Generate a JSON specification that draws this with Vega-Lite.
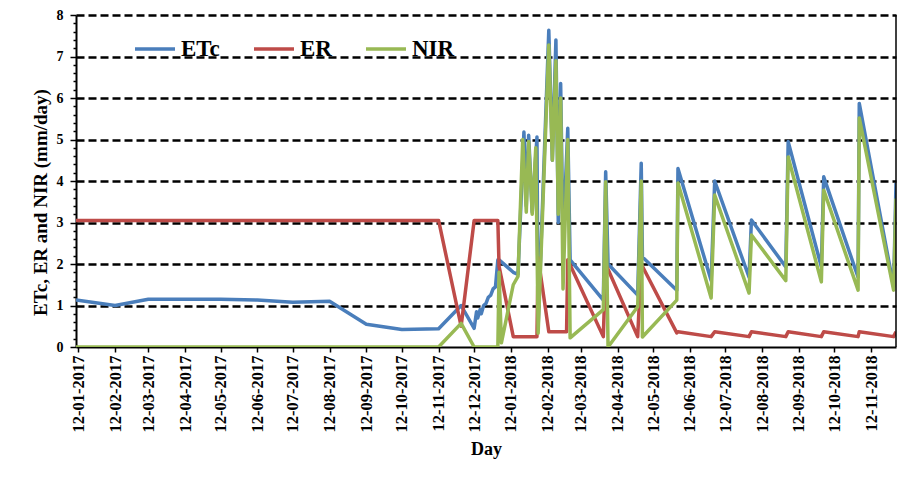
{
 "$schema": "https://vega.github.io/schema/vega-lite/v6.json",
 "width": 820,
 "height": 332,
 "autosize": {"type": "none"},
 "padding": {"left": 76, "top": 15, "right": 3, "bottom": 130},
 "background": "white",
 "config": {"font": "Liberation Serif", "view": {"stroke": null}},
 "data": {"values": [
  {"date": "2017-01-10", "series": "ETc", "value": 1.13},
  {"date": "2017-02-12", "series": "ETc", "value": 1.0},
  {"date": "2017-03-12", "series": "ETc", "value": 1.15},
  {"date": "2017-04-12", "series": "ETc", "value": 1.15},
  {"date": "2017-05-12", "series": "ETc", "value": 1.15},
  {"date": "2017-06-12", "series": "ETc", "value": 1.13},
  {"date": "2017-07-12", "series": "ETc", "value": 1.08},
  {"date": "2017-08-12", "series": "ETc", "value": 1.1},
  {"date": "2017-09-12", "series": "ETc", "value": 0.55},
  {"date": "2017-10-12", "series": "ETc", "value": 0.42},
  {"date": "2017-11-12", "series": "ETc", "value": 0.44},
  {"date": "2017-12-01", "series": "ETc", "value": 1.0},
  {"date": "2017-12-12", "series": "ETc", "value": 0.45},
  {"date": "2017-12-14", "series": "ETc", "value": 0.85},
  {"date": "2017-12-15", "series": "ETc", "value": 0.7},
  {"date": "2017-12-17", "series": "ETc", "value": 0.9},
  {"date": "2017-12-18", "series": "ETc", "value": 0.8},
  {"date": "2017-12-20", "series": "ETc", "value": 1.0},
  {"date": "2017-12-22", "series": "ETc", "value": 1.05},
  {"date": "2017-12-24", "series": "ETc", "value": 1.2},
  {"date": "2017-12-26", "series": "ETc", "value": 1.25},
  {"date": "2017-12-28", "series": "ETc", "value": 1.4},
  {"date": "2017-12-30", "series": "ETc", "value": 1.45},
  {"date": "2018-01-01", "series": "ETc", "value": 2.1},
  {"date": "2018-01-02", "series": "ETc", "value": 2.1},
  {"date": "2018-01-14", "series": "ETc", "value": 1.8},
  {"date": "2018-01-18", "series": "ETc", "value": 1.75},
  {"date": "2018-01-23", "series": "ETc", "value": 5.18},
  {"date": "2018-01-25", "series": "ETc", "value": 3.4},
  {"date": "2018-01-27", "series": "ETc", "value": 5.1},
  {"date": "2018-01-30", "series": "ETc", "value": 3.25},
  {"date": "2018-02-03", "series": "ETc", "value": 5.06},
  {"date": "2018-02-04", "series": "ETc", "value": 0.5},
  {"date": "2018-02-13", "series": "ETc", "value": 7.63},
  {"date": "2018-02-16", "series": "ETc", "value": 4.5},
  {"date": "2018-02-19", "series": "ETc", "value": 7.4},
  {"date": "2018-02-21", "series": "ETc", "value": 3.0},
  {"date": "2018-02-23", "series": "ETc", "value": 6.35},
  {"date": "2018-02-25", "series": "ETc", "value": 2.5},
  {"date": "2018-03-01", "series": "ETc", "value": 5.27},
  {"date": "2018-03-03", "series": "ETc", "value": 2.1},
  {"date": "2018-03-31", "series": "ETc", "value": 1.13},
  {"date": "2018-04-02", "series": "ETc", "value": 4.22},
  {"date": "2018-04-04", "series": "ETc", "value": 2.0},
  {"date": "2018-04-29", "series": "ETc", "value": 1.25},
  {"date": "2018-05-02", "series": "ETc", "value": 4.43},
  {"date": "2018-05-03", "series": "ETc", "value": 2.17},
  {"date": "2018-06-01", "series": "ETc", "value": 1.37},
  {"date": "2018-06-02", "series": "ETc", "value": 4.3},
  {"date": "2018-06-30", "series": "ETc", "value": 1.6},
  {"date": "2018-07-03", "series": "ETc", "value": 4.0},
  {"date": "2018-08-01", "series": "ETc", "value": 1.68},
  {"date": "2018-08-03", "series": "ETc", "value": 3.06},
  {"date": "2018-09-01", "series": "ETc", "value": 1.93},
  {"date": "2018-09-03", "series": "ETc", "value": 4.95},
  {"date": "2018-10-01", "series": "ETc", "value": 1.93},
  {"date": "2018-10-03", "series": "ETc", "value": 4.1},
  {"date": "2018-11-01", "series": "ETc", "value": 1.68},
  {"date": "2018-11-02", "series": "ETc", "value": 5.87},
  {"date": "2018-12-01", "series": "ETc", "value": 1.45},
  {"date": "2018-12-03", "series": "ETc", "value": 3.95},

  {"date": "2017-01-10", "series": "ER", "value": 3.05},
  {"date": "2017-11-12", "series": "ER", "value": 3.05},
  {"date": "2017-12-01", "series": "ER", "value": 0.5},
  {"date": "2017-12-12", "series": "ER", "value": 3.05},
  {"date": "2018-01-01", "series": "ER", "value": 3.05},
  {"date": "2018-01-02", "series": "ER", "value": 1.95},
  {"date": "2018-01-14", "series": "ER", "value": 0.25},
  {"date": "2018-02-03", "series": "ER", "value": 0.25},
  {"date": "2018-02-04", "series": "ER", "value": 2.15},
  {"date": "2018-02-13", "series": "ER", "value": 0.37},
  {"date": "2018-02-28", "series": "ER", "value": 0.37},
  {"date": "2018-03-01", "series": "ER", "value": 2.1},
  {"date": "2018-03-31", "series": "ER", "value": 0.25},
  {"date": "2018-04-02", "series": "ER", "value": 2.0},
  {"date": "2018-04-29", "series": "ER", "value": 0.25},
  {"date": "2018-05-02", "series": "ER", "value": 2.0},
  {"date": "2018-06-01", "series": "ER", "value": 0.34},
  {"date": "2018-06-02", "series": "ER", "value": 0.37},
  {"date": "2018-06-30", "series": "ER", "value": 0.25},
  {"date": "2018-07-03", "series": "ER", "value": 0.37},
  {"date": "2018-08-01", "series": "ER", "value": 0.25},
  {"date": "2018-08-03", "series": "ER", "value": 0.37},
  {"date": "2018-09-01", "series": "ER", "value": 0.25},
  {"date": "2018-09-03", "series": "ER", "value": 0.37},
  {"date": "2018-10-01", "series": "ER", "value": 0.25},
  {"date": "2018-10-03", "series": "ER", "value": 0.37},
  {"date": "2018-11-01", "series": "ER", "value": 0.25},
  {"date": "2018-11-02", "series": "ER", "value": 0.37},
  {"date": "2018-12-01", "series": "ER", "value": 0.25},
  {"date": "2018-12-03", "series": "ER", "value": 0.37},

  {"date": "2017-01-10", "series": "NIR", "value": 0},
  {"date": "2017-11-12", "series": "NIR", "value": 0},
  {"date": "2017-12-01", "series": "NIR", "value": 0.57},
  {"date": "2017-12-12", "series": "NIR", "value": 0},
  {"date": "2018-01-01", "series": "NIR", "value": 0},
  {"date": "2018-01-02", "series": "NIR", "value": 1.8},
  {"date": "2018-01-04", "series": "NIR", "value": 0.1},
  {"date": "2018-01-14", "series": "NIR", "value": 1.5},
  {"date": "2018-01-18", "series": "NIR", "value": 1.7},
  {"date": "2018-01-22", "series": "NIR", "value": 5.0},
  {"date": "2018-01-25", "series": "NIR", "value": 3.25},
  {"date": "2018-01-27", "series": "NIR", "value": 4.95},
  {"date": "2018-01-30", "series": "NIR", "value": 3.2},
  {"date": "2018-02-02", "series": "NIR", "value": 4.8},
  {"date": "2018-02-04", "series": "NIR", "value": 0.33},
  {"date": "2018-02-13", "series": "NIR", "value": 7.28},
  {"date": "2018-02-16", "series": "NIR", "value": 4.5},
  {"date": "2018-02-19", "series": "NIR", "value": 6.9},
  {"date": "2018-02-21", "series": "NIR", "value": 3.2},
  {"date": "2018-02-23", "series": "NIR", "value": 6.0},
  {"date": "2018-02-25", "series": "NIR", "value": 1.4},
  {"date": "2018-03-01", "series": "NIR", "value": 5.0},
  {"date": "2018-03-03", "series": "NIR", "value": 0.22},
  {"date": "2018-03-31", "series": "NIR", "value": 0.9},
  {"date": "2018-04-02", "series": "NIR", "value": 3.98},
  {"date": "2018-04-04", "series": "NIR", "value": 0.0},
  {"date": "2018-04-29", "series": "NIR", "value": 0.97},
  {"date": "2018-05-02", "series": "NIR", "value": 4.0},
  {"date": "2018-05-03", "series": "NIR", "value": 0.24},
  {"date": "2018-06-01", "series": "NIR", "value": 1.13},
  {"date": "2018-06-02", "series": "NIR", "value": 3.95},
  {"date": "2018-06-30", "series": "NIR", "value": 1.18},
  {"date": "2018-07-03", "series": "NIR", "value": 3.66},
  {"date": "2018-08-01", "series": "NIR", "value": 1.3},
  {"date": "2018-08-03", "series": "NIR", "value": 2.7},
  {"date": "2018-09-01", "series": "NIR", "value": 1.6},
  {"date": "2018-09-03", "series": "NIR", "value": 4.58},
  {"date": "2018-10-01", "series": "NIR", "value": 1.57},
  {"date": "2018-10-03", "series": "NIR", "value": 3.78},
  {"date": "2018-11-01", "series": "NIR", "value": 1.37},
  {"date": "2018-11-02", "series": "NIR", "value": 5.52},
  {"date": "2018-12-01", "series": "NIR", "value": 1.37},
  {"date": "2018-12-03", "series": "NIR", "value": 3.58}
 ]},
 "encoding": {
  "x": {
   "field": "date", "type": "temporal",
   "scale": {"type": "utc", "domain": [{"year": 2017, "month": 1, "date": 10, "utc": true}, {"year": 2018, "month": 12, "date": 3, "utc": true}]},
   "axis": {
    "values": [
     {"year": 2017, "month": 1, "date": 12, "utc": true},
     {"year": 2017, "month": 2, "date": 12, "utc": true},
     {"year": 2017, "month": 3, "date": 12, "utc": true},
     {"year": 2017, "month": 4, "date": 12, "utc": true},
     {"year": 2017, "month": 5, "date": 12, "utc": true},
     {"year": 2017, "month": 6, "date": 12, "utc": true},
     {"year": 2017, "month": 7, "date": 12, "utc": true},
     {"year": 2017, "month": 8, "date": 12, "utc": true},
     {"year": 2017, "month": 9, "date": 12, "utc": true},
     {"year": 2017, "month": 10, "date": 12, "utc": true},
     {"year": 2017, "month": 11, "date": 12, "utc": true},
     {"year": 2017, "month": 12, "date": 12, "utc": true},
     {"year": 2018, "month": 1, "date": 12, "utc": true},
     {"year": 2018, "month": 2, "date": 12, "utc": true},
     {"year": 2018, "month": 3, "date": 12, "utc": true},
     {"year": 2018, "month": 4, "date": 12, "utc": true},
     {"year": 2018, "month": 5, "date": 12, "utc": true},
     {"year": 2018, "month": 6, "date": 12, "utc": true},
     {"year": 2018, "month": 7, "date": 12, "utc": true},
     {"year": 2018, "month": 8, "date": 12, "utc": true},
     {"year": 2018, "month": 9, "date": 12, "utc": true},
     {"year": 2018, "month": 10, "date": 12, "utc": true},
     {"year": 2018, "month": 11, "date": 12, "utc": true}
    ],
    "labelExpr": "utcFormat(datum.value, '%d-%m-%Y')",
    "labelAngle": 270, "labelAlign": "right", "labelBaseline": "middle",
    "labelFontSize": 16.5, "labelFontWeight": "bold", "labelColor": "black",
    "labelPadding": 3, "labelOverlap": false, "labelFlush": false,
    "tickColor": "black", "tickSize": 5, "tickWidth": 1.5,
    "domainColor": "black", "domainWidth": 2, "grid": false,
    "title": "Day", "titleFontSize": 18, "titleFontWeight": "bold", "titleColor": "black", "titlePadding": 9
   }
  }
 },
 "layer": [
  {
   "mark": {"type": "line", "strokeWidth": 3.5, "strokeJoin": "round", "clip": true},
   "encoding": {
    "y": {
     "field": "value", "type": "quantitative",
     "scale": {"domain": [0, 8], "nice": false},
     "axis": {
      "values": [0, 0.2, 0.4, 0.6, 0.8, 1, 1.2, 1.4, 1.6, 1.8, 2, 2.2, 2.4, 2.6, 2.8, 3, 3.2, 3.4, 3.6, 3.8, 4, 4.2, 4.4, 4.6, 4.8, 5, 5.2, 5.4, 5.6, 5.8, 6, 6.2, 6.4, 6.6, 6.8, 7, 7.2, 7.4, 7.6, 7.8, 8],
      "format": ".0f",
      "labelExpr": "datum.value % 1 === 0 ? datum.label : ''",
      "labelFontSize": 14, "labelFontWeight": "bold", "labelColor": "black", "labelOverlap": false, "labelPadding": 7,
      "tickColor": "black", "tickWidth": 1.5,
      "tickSize": {"condition": {"test": "datum.value % 1 === 0", "value": 6}, "value": 3},
      "domainColor": "black", "domainWidth": 2,
      "grid": true, "gridColor": "black", "gridDash": [8, 4], "gridWidth": 2.5,
      "gridOpacity": {"condition": {"test": "datum.value % 1 === 0 && datum.value > 0", "value": 1}, "value": 0},
      "title": "ETc, ER and NIR (mm/day)", "titleFontSize": 19, "titleFontWeight": "bold", "titleColor": "black", "titlePadding": 6, "titleY": 187
     }
    },
    "color": {
     "field": "series", "type": "nominal",
     "scale": {"domain": ["ETc", "ER", "NIR"], "range": ["#4A7EBB", "#BE4B48", "#98B954"]},
     "legend": {
      "orient": "none", "legendX": 57, "legendY": 12, "direction": "horizontal", "title": null,
      "symbolType": "stroke", "symbolSize": 1600, "symbolStrokeWidth": 3.5,
      "labelFontSize": 23, "labelFontWeight": "bold", "labelFont": "Liberation Serif", "labelColor": "black",
      "labelOffset": 4, "columnPadding": 27, "padding": 0
     }
    }
   }
  },
  {
   "transform": [{"filter": "datum.series === 'ETc' && datum.value === 3.95"}],
   "mark": {"type": "rule", "color": "black", "strokeWidth": 1.5},
   "encoding": {}
  }
 ]
}
